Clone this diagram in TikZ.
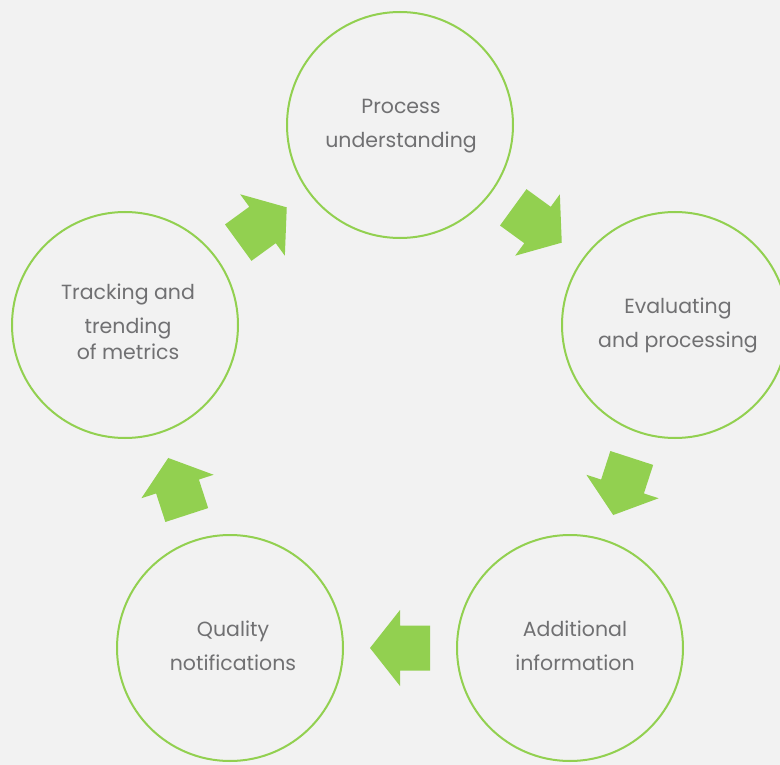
\documentclass[tikz,border=0pt]{standalone}
\usepackage{fontspec}
\setmainfont{Poppins}
\definecolor{leaf}{RGB}{146,208,80}
\definecolor{ink}{RGB}{112,112,114}
\definecolor{paper}{RGB}{242,242,242}
\tikzset{
 stage/.style={draw=leaf,line width=2pt,circle,minimum size=226pt,inner sep=0pt},
 tag/.style={align=center,text=ink,inner sep=0pt,font=\fontsize{20.5}{34}\selectfont},
 flow/.pic={\fill[leaf] (-30,-22.5) -- (0,-22.5) -- (0,-38) -- (30,0) -- (0,38)
             -- (0,22.5) -- (-30,22.5) -- cycle;}
}

\begin{document}
\begin{tikzpicture}[x=1pt,y=-1pt]
\fill[paper] (0,0) rectangle (780,765);
\useasboundingbox (0,0) rectangle (780,765);
% the five stages of the cycle
\node[stage] (proc) at (400,125) {};
\node[stage] (eval) at (675,325) {};
\node[stage] (info) at (570,648) {};
\node[stage] (qual) at (230,648) {};
\node[stage] (track) at (125,325) {};
\node[tag] (procT) at ([xshift=1pt,yshift=-1pt]proc.center) {Process\\understanding};
\node[tag] (evalT) at ([xshift=3pt]eval.center) {Evaluating\\and processing};
\node[tag] (infoT) at ([xshift=5pt,yshift=2pt]info.center) {Additional\\information};
\node[tag] (qualT) at ([xshift=3pt,yshift=2pt]qual.center) {Quality\\notifications};
\node[tag] (trackT) at ([xshift=3pt,yshift=3pt]track.center) {Tracking and\\trending\\[-8pt]of metrics};
% block arrows half way between neighbours
\foreach \a/\b in {track/proc,proc/eval,eval/info,info/qual,qual/track}
  \path (\a) -- pic[pos=0.5,sloped,allow upside down] {flow} (\b);
\end{tikzpicture}
\end{document}
